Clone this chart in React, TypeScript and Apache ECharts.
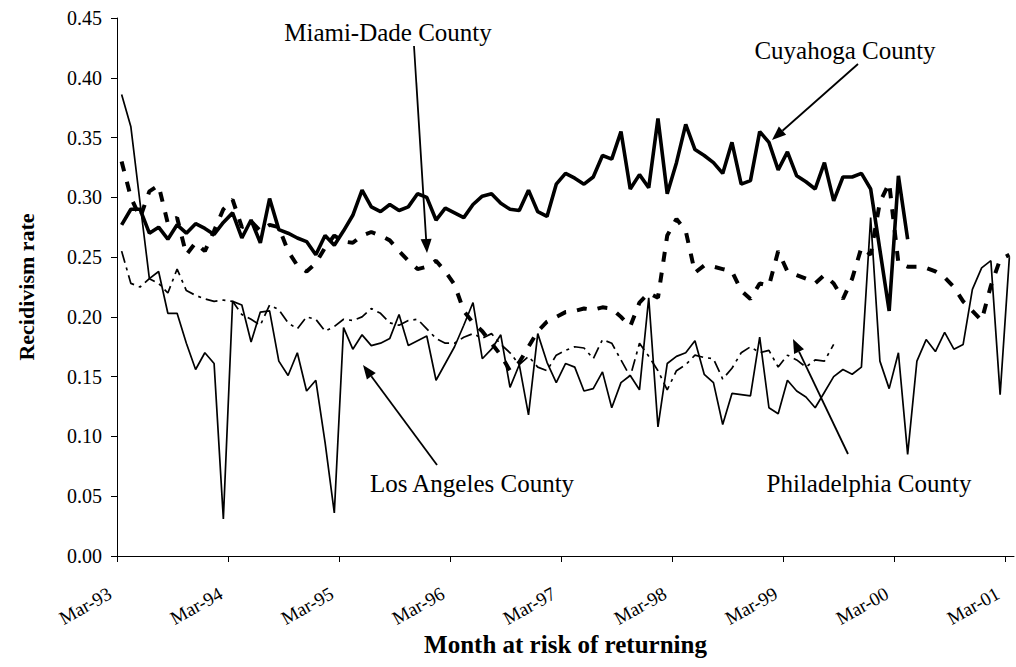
import React, { useEffect, useRef } from "react";
import * as echarts from "echarts";

// ---------- data (monthly, starting Mar-93) ----------
const monthNames = ["Jan", "Feb", "Mar", "Apr", "May", "Jun", "Jul", "Aug", "Sep", "Oct", "Nov", "Dec"];
const startYear = 1993;
const startMonth = 2; // March
const monthCount = 97; // Mar-93 .. Mar-01

const tickLabels = ["Mar-93", "Mar-94", "Mar-95", "Mar-96", "Mar-97", "Mar-98", "Mar-99", "Mar-00", "Mar-01"];

const cuyahoga = [
  0.277, 0.290, 0.290, 0.270, 0.275, 0.265, 0.277, 0.270, 0.278, 0.274,
  0.269, 0.279, 0.287, 0.266, 0.281, 0.262, 0.299, 0.273, 0.270, 0.266,
  0.263, 0.252, 0.268, 0.260, 0.272, 0.285, 0.306, 0.292, 0.288, 0.294,
  0.289, 0.292, 0.303, 0.300, 0.281, 0.291, 0.287, 0.283, 0.294, 0.301,
  0.303, 0.295, 0.290, 0.289, 0.306, 0.288, 0.284, 0.311, 0.320, 0.316,
  0.311, 0.317, 0.335, 0.332, 0.355, 0.307, 0.319, 0.308, 0.366, 0.303,
  0.329, 0.361, 0.340, 0.335, 0.329, 0.320, 0.346, 0.311, 0.314, 0.355,
  0.346, 0.323, 0.338, 0.318, 0.313, 0.307, 0.329, 0.297, 0.317, 0.317,
  0.320, 0.307, 0.256, 0.205, 0.318, 0.265,
];

const miamiDade = [
  0.330, 0.300, 0.283, 0.305, 0.310, 0.278, 0.283, 0.252, 0.262, 0.255,
  0.272, 0.290, 0.298, 0.275, 0.280, 0.272, 0.277, 0.275, 0.255, 0.243,
  0.238, 0.245, 0.258, 0.268, 0.263, 0.262, 0.268, 0.271, 0.268, 0.264,
  0.255, 0.247, 0.240, 0.242, 0.247, 0.238, 0.227, 0.205, 0.195, 0.188,
  0.178, 0.168, 0.155, 0.162, 0.175, 0.188, 0.196, 0.200, 0.204, 0.205,
  0.207, 0.206, 0.208, 0.207, 0.200, 0.192, 0.212, 0.220, 0.216, 0.268,
  0.282, 0.272, 0.237, 0.243, 0.242, 0.240, 0.238, 0.222, 0.215, 0.228,
  0.226, 0.255, 0.238, 0.235, 0.232, 0.228, 0.235, 0.228, 0.215, 0.232,
  0.258, 0.252, 0.296, 0.312, 0.245, 0.242, 0.242, 0.241, 0.238, 0.233,
  0.225, 0.213, 0.205, 0.197, 0.226, 0.248, 0.252,
];

const philadelphia = [
  0.255, 0.228, 0.225, 0.232, 0.228, 0.220, 0.240, 0.222, 0.218, 0.215,
  0.213, 0.214, 0.213, 0.202, 0.198, 0.193, 0.210, 0.206, 0.195, 0.190,
  0.200, 0.198, 0.188, 0.192, 0.198, 0.197, 0.200, 0.207, 0.203, 0.195,
  0.193, 0.197, 0.198, 0.190, 0.182, 0.178, 0.178, 0.183, 0.186, 0.182,
  0.186, 0.177, 0.170, 0.160, 0.167, 0.158, 0.155, 0.168, 0.172, 0.175,
  0.174, 0.165, 0.181, 0.178, 0.164, 0.150, 0.178, 0.167, 0.155, 0.139,
  0.155, 0.160, 0.168, 0.166, 0.165, 0.148, 0.157, 0.170, 0.175, 0.170,
  0.172, 0.158, 0.168, 0.164, 0.158, 0.164, 0.163, 0.177,
];

const losAngeles = [
  0.386, 0.359, 0.295, 0.232, 0.238, 0.203, 0.203, 0.178, 0.156, 0.170,
  0.161, 0.031, 0.213, 0.210, 0.179, 0.204, 0.205, 0.163, 0.151, 0.170,
  0.138, 0.147, 0.095, 0.036, 0.191, 0.173, 0.185, 0.176, 0.178, 0.182,
  0.202, 0.176, 0.180, 0.184, 0.147, 0.161, 0.175, 0.193, 0.212, 0.165,
  0.173, 0.185, 0.141, 0.160, 0.118, 0.186, 0.162, 0.145, 0.161, 0.158,
  0.138, 0.140, 0.154, 0.124, 0.145, 0.151, 0.139, 0.216, 0.108, 0.161,
  0.167, 0.170, 0.180, 0.152, 0.145, 0.110, 0.136, 0.135, 0.134, 0.183,
  0.124, 0.119, 0.147, 0.138, 0.133, 0.124, 0.137, 0.150, 0.156, 0.152,
  0.158, 0.283, 0.163, 0.140, 0.170, 0.085, 0.163, 0.181, 0.171, 0.187,
  0.173, 0.177, 0.223, 0.241, 0.247, 0.135, 0.250,
];

const FONT = "'Liberation Serif', 'Times New Roman', serif";

function buildMonths(): string[] {
  const out: string[] = [];
  for (let k = 0; k < monthCount; k++) {
    const m = (startMonth + k) % 12;
    const y = (startYear + Math.floor((startMonth + k) / 12)) % 100;
    out.push(monthNames[m] + "-" + String(y).padStart(2, "0"));
  }
  return out;
}

function arrow(x1: number, y1: number, x2: number, y2: number) {
  const dx = x2 - x1;
  const dy = y2 - y1;
  const len = Math.sqrt(dx * dx + dy * dy);
  const ux = dx / len;
  const uy = dy / len;
  const headLen = 14;
  const headHalf = 5.5;
  const bx = x2 - ux * headLen;
  const by = y2 - uy * headLen;
  const px = -uy;
  const py = ux;
  return [
    {
      type: "line",
      shape: { x1, y1, x2: bx, y2: by },
      style: { stroke: "#000", lineWidth: 1.8 },
      silent: true,
    },
    {
      type: "polygon",
      shape: {
        points: [
          [x2, y2],
          [bx + px * headHalf, by + py * headHalf],
          [bx - px * headHalf, by - py * headHalf],
        ],
      },
      style: { fill: "#000" },
      silent: true,
    },
  ];
}

function label(text: string, x: number, y: number) {
  return {
    type: "text",
    x,
    y,
    silent: true,
    style: {
      text,
      font: `25px ${FONT}`,
      fill: "#000",
      align: "center",
      verticalAlign: "middle",
      textAlign: "center",
      textVerticalAlign: "middle",
    },
  };
}

export default function App() {
  const ref = useRef<HTMLDivElement>(null);

  useEffect(() => {
    if (!ref.current) return;
    const chart = echarts.init(ref.current, undefined, { renderer: "svg" });
    const months = buildMonths();

    const option: any = {
      animation: false,
      backgroundColor: "#fff",
      grid: [
        { left: 117, top: 18, right: 2, bottom: 111 },
        { left: 117, top: 18, right: 11, bottom: 111 },
        { left: 110, top: 18, right: 18, bottom: 111 },
      ],
      xAxis: [
        {
          type: "category",
          gridIndex: 0,
          data: months,
          boundaryGap: true,
          axisLine: { show: true, lineStyle: { color: "#000", width: 1 } },
          axisTick: { show: false },
          axisLabel: { show: false },
          splitLine: { show: false },
          name: "Month at risk of returning",
          nameLocation: "middle",
          nameGap: 76,
          nameTextStyle: { fontFamily: FONT, fontSize: 25, fontWeight: "bold", color: "#000" },
        },
        {
          type: "value",
          gridIndex: 1,
          min: 0,
          max: 96,
          interval: 12,
          axisLine: { show: false },
          axisTick: { show: true, length: 6, lineStyle: { color: "#000", width: 1 } },
          axisLabel: { show: false },
          splitLine: { show: false },
        },
        {
          type: "value",
          gridIndex: 2,
          min: 0,
          max: 96,
          interval: 12,
          axisLine: { show: false },
          axisTick: { show: false },
          axisLabel: {
            show: true,
            rotate: 29,
            margin: 36,
            fontFamily: FONT,
            fontSize: 19,
            color: "#000",
            formatter: (v: number) => tickLabels[Math.round(v / 12)] ?? "",
          },
          splitLine: { show: false },
        },
      ],
      yAxis: [
        {
          type: "value",
          gridIndex: 0,
          min: 0,
          max: 0.45,
          interval: 0.05,
          axisLine: { show: true, lineStyle: { color: "#000", width: 1 } },
          axisTick: { show: true, length: 6, lineStyle: { color: "#000", width: 1 } },
          axisLabel: {
            margin: 15,
            fontFamily: FONT,
            fontSize: 20,
            color: "#000",
            formatter: (v: number) => v.toFixed(2),
          },
          splitLine: { show: false },
          name: "Recidivism rate",
          nameLocation: "middle",
          nameGap: 80,
          nameRotate: 90,
          nameTextStyle: { fontFamily: FONT, fontSize: 22, fontWeight: "bold", color: "#000" },
        },
        { type: "value", gridIndex: 1, min: 0, max: 1, show: false },
        { type: "value", gridIndex: 2, min: 0, max: 1, show: false },
      ],
      series: [
        {
          name: "Los Angeles County",
          type: "line",
          xAxisIndex: 0,
          yAxisIndex: 0,
          data: losAngeles,
          showSymbol: false,
          symbol: "none",
          lineStyle: { color: "#000", width: 1.7, type: "solid" },
          z: 2,
        },
        {
          name: "Philadelphia County",
          type: "line",
          xAxisIndex: 0,
          yAxisIndex: 0,
          data: philadelphia,
          showSymbol: false,
          symbol: "none",
          lineStyle: { color: "#000", width: 1.7, type: [12, 5, 3, 5] },
          z: 2,
        },
        {
          name: "Miami-Dade County",
          type: "line",
          xAxisIndex: 0,
          yAxisIndex: 0,
          data: miamiDade,
          showSymbol: false,
          symbol: "none",
          lineStyle: { color: "#000", width: 4, type: [10, 11], cap: "butt" },
          z: 3,
        },
        {
          name: "Cuyahoga County",
          type: "line",
          xAxisIndex: 0,
          yAxisIndex: 0,
          data: cuyahoga,
          showSymbol: false,
          symbol: "none",
          lineStyle: { color: "#000", width: 3.6, type: "solid" },
          z: 4,
        },
      ],
      graphic: [
        label("Miami-Dade County", 388, 32),
        ...arrow(414, 46, 427, 253),
        label("Cuyahoga County", 845, 50),
        ...arrow(858, 64, 772, 140),
        label("Los Angeles County", 472, 483),
        ...arrow(437, 465, 363, 365),
        label("Philadelphia County", 869, 483),
        ...arrow(848, 454, 793, 339),
      ],
    };

    chart.setOption(option);
    return () => chart.dispose();
  }, []);

  return (
    <div
      ref={ref}
      style={{ position: "fixed", left: 0, top: 0, width: 1016, height: 667, background: "#fff" }}
    />
  );
}
